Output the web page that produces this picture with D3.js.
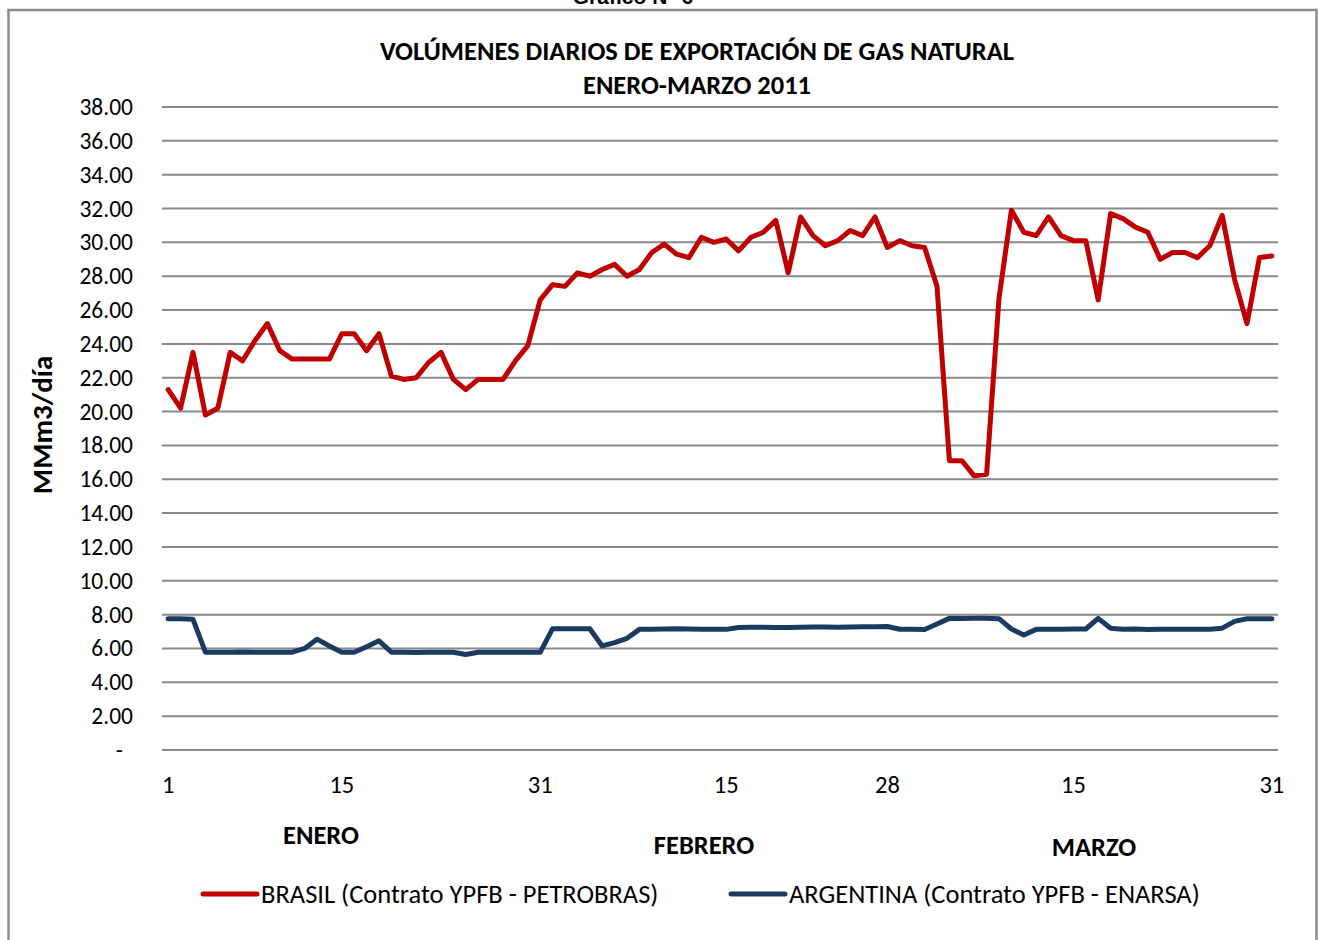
<!DOCTYPE html>
<html>
<head>
<meta charset="utf-8">
<script src="https://cdn.jsdelivr.net/npm/d3@7"></script>
<style>
  body { margin: 0; background: #fff; }
  svg { display: block; font-family: Carlito, Calibri, Lato, "Open Sans", sans-serif; }
</style>
</head>
<body>
<script>
// daily volumes Jan-Mar 2011, MMm3/dia
var days = []
var monthLengths = [31, 28, 31]
monthLengths.forEach(function(n, m){
    for (var d = 1; d <= n; d++) days.push((m + 1) + "-" + d)
})

var brasil = [
    21.3, 20.2, 23.5, 19.8, 20.2, 23.5, 23.0, 24.2, 25.2, 23.6,
    23.1, 23.1, 23.1, 23.1, 24.6, 24.6, 23.6, 24.6, 22.1, 21.9,
    22.0, 22.9, 23.5, 21.9, 21.3, 21.9, 21.9, 21.9, 23.0, 23.9,
    26.6, 27.5, 27.4, 28.2, 28.0, 28.4, 28.7, 28.0, 28.4, 29.4,
    29.9, 29.3, 29.1, 30.3, 30.0, 30.2, 29.5, 30.3, 30.6, 31.3,
    28.2, 31.5, 30.4, 29.8, 30.1, 30.7, 30.4, 31.5, 29.7, 30.1,
    29.8, 29.7, 27.4, 17.1, 17.1, 16.2, 16.3, 26.7, 31.9, 30.6,
    30.4, 31.5, 30.4, 30.1, 30.1, 26.6, 31.7, 31.4, 30.9, 30.6,
    29.0, 29.4, 29.4, 29.1, 29.8, 31.6, 27.8, 25.2, 29.1, 29.2
]

var argentina = [
    7.75, 7.75, 7.72, 5.78, 5.78, 5.78, 5.79, 5.78, 5.78, 5.78,
    5.78, 6.0, 6.55, 6.15, 5.78, 5.78, 6.1, 6.45, 5.78, 5.78,
    5.76, 5.77, 5.78, 5.78, 5.64, 5.78, 5.77, 5.77, 5.77, 5.77,
    5.77, 7.17, 7.17, 7.16, 7.17, 6.15, 6.35, 6.6, 7.13, 7.14,
    7.15, 7.16, 7.15, 7.13, 7.13, 7.13, 7.24, 7.25, 7.25, 7.24,
    7.24, 7.25, 7.27, 7.27, 7.25, 7.27, 7.28, 7.28, 7.3, 7.14,
    7.13, 7.12, 7.45, 7.78, 7.77, 7.78, 7.78, 7.76, 7.15, 6.8,
    7.13, 7.13, 7.13, 7.15, 7.15, 7.78, 7.2, 7.14, 7.15, 7.12,
    7.14, 7.14, 7.14, 7.14, 7.13, 7.2, 7.6, 7.76, 7.76, 7.76
]

var yTicks = d3.range(0, 39, 2)
var xTickIdx = [0, 14, 30, 45, 58, 73, 89]
var xTickLabels = ["1", "15", "31", "15", "28", "15", "31"]
var months = [
    {name: "ENERO", x: 321, y: 844},
    {name: "FEBRERO", x: 704, y: 854},
    {name: "MARZO", x: 1094, y: 856}
]
var series = [
    {name: "BRASIL (Contrato YPFB - PETROBRAS)", values: brasil, color: "#C00000"},
    {name: "ARGENTINA (Contrato YPFB - ENARSA)", values: argentina, color: "#1B3A62"}
]

var width = 1319, height = 940
var plot = {left: 162, right: 1278, top: 107, bottom: 750}

var svg = d3.select("body").append("svg")
    .attr("width", width)
    .attr("height", height)

// outer frame
svg.append("rect")
    .attr("x", 8.5).attr("y", 10)
    .attr("width", 1308).attr("height", 940)
    .attr("fill", "none")
    .attr("stroke", "#8c8c8c")
    .attr("stroke-width", 2.5)

svg.append("text")
    .attr("x", 633).attr("y", 4)
    .attr("text-anchor", "middle")
    .attr("font-family", "Liberation Sans, Arial, sans-serif")
    .attr("font-weight", "bold")
    .attr("font-size", 21)
    .text("Gráfico N° 6")

var x = d3.scalePoint()
    .domain(days)
    .range([plot.left, plot.right])
    .padding(0.5)

var y = d3.scaleLinear()
    .domain([0, 38])
    .range([plot.bottom, plot.top])

// gridlines
svg.append("g")
    .selectAll("line")
    .data(yTicks)
    .enter()
    .append("line")
    .attr("x1", plot.left).attr("x2", plot.right)
    .attr("y1", (d) => {return y(d)})
    .attr("y2", (d) => {return y(d)})
    .attr("stroke", "#8a8a8a")
    .attr("stroke-width", 2)

// y labels
svg.append("g")
    .selectAll("text")
    .data(yTicks)
    .enter()
    .append("text")
    .attr("x", (d) => {return d == 0 ? 123 : 133})
    .attr("y", (d) => {return y(d) + 8})
    .attr("text-anchor", "end")
    .attr("font-size", 23.5)
    .text((d) => {return d == 0 ? "-" : d.toFixed(2)})

// x labels
svg.append("g")
    .selectAll("text")
    .data(xTickIdx)
    .enter()
    .append("text")
    .attr("x", (d) => {return x(days[d])})
    .attr("y", 793)
    .attr("text-anchor", "middle")
    .attr("font-size", 24.5)
    .text((d, i) => {return xTickLabels[i]})

svg.append("g")
    .selectAll("text")
    .data(months)
    .enter()
    .append("text")
    .attr("x", (d) => {return d.x})
    .attr("y", (d) => {return d.y})
    .attr("text-anchor", "middle")
    .attr("font-size", 26.5)
    .attr("font-weight", "bold")
    .text((d) => {return d.name})

// title
svg.append("text")
    .attr("x", 697).attr("y", 60)
    .attr("text-anchor", "middle")
    .attr("font-size", 26.5)
    .attr("font-weight", "bold")
    .text("VOLÚMENES DIARIOS DE EXPORTACIÓN DE GAS NATURAL")
svg.append("text")
    .attr("x", 697).attr("y", 94)
    .attr("text-anchor", "middle")
    .attr("font-size", 26.5)
    .attr("font-weight", "bold")
    .text("ENERO-MARZO 2011")

svg.append("text")
    .attr("transform", "translate(52,425) rotate(-90)")
    .attr("text-anchor", "middle")
    .attr("font-size", 29)
    .attr("font-weight", "bold")
    .text("MMm3/día")

var line = d3.line()
    .x((d, i) => {return x(days[i])})
    .y((d) => {return y(d)})

svg.append("g")
    .selectAll("path")
    .data(series)
    .enter()
    .append("path")
    .attr("d", (d) => {return line(d.values)})
    .attr("fill", "none")
    .attr("stroke", (d) => {return d.color})
    .attr("stroke-width", 5)
    .attr("stroke-linejoin", "round")
    .attr("stroke-linecap", "round")

// legend
var legendX = [203, 731]
var legend = svg.append("g")
    .selectAll("g")
    .data(series)
    .enter()
    .append("g")
    .attr("transform", (d, i) => {return "translate(" + legendX[i] + ",894)"})

legend.append("line")
    .attr("x1", 0).attr("x2", 54)
    .attr("stroke", (d) => {return d.color})
    .attr("stroke-width", 5)
    .attr("stroke-linecap", "round")

legend.append("text")
    .attr("x", 58).attr("y", 9)
    .attr("font-size", 26.5)
    .text((d) => {return d.name})
</script>
</body>
</html>
